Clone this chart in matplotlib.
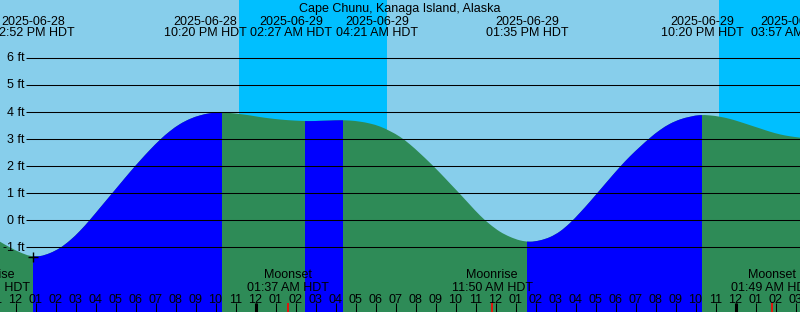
import matplotlib
matplotlib.use("Agg")
import matplotlib.pyplot as plt
import numpy as np
from matplotlib.path import Path
from matplotlib.patches import PathPatch

plt.rcParams["font.family"] = ["Liberation Sans", "DejaVu Sans"]
plt.rcParams["font.size"] = 9

# clock hours counted from 2025-06-28 00:00 HDT; left edge of the chart
t_left = 11.225
t_right = 51.225

# water level (ft), every half hour from the left edge
tide_ft = [
    -0.79, -1.00, -1.18, -1.31, -1.32, -1.21, -1.02, -0.74, -0.39, 0.02,
    0.46, 0.90, 1.34, 1.78, 2.20, 2.60, 2.97, 3.29, 3.55, 3.74,
    3.87, 3.95, 3.98, 3.96, 3.92, 3.87, 3.81, 3.76, 3.72, 3.69,
    3.67, 3.66, 3.67, 3.68, 3.69, 3.68, 3.64, 3.57, 3.46, 3.29,
    3.08, 2.80, 2.47, 2.12, 1.75, 1.36, 0.97, 0.57, 0.18, -0.15,
    -0.42, -0.61, -0.74, -0.79, -0.74, -0.62, -0.41, -0.10, 0.28, 0.69,
    1.12, 1.55, 1.97, 2.36, 2.71, 3.04, 3.33, 3.56, 3.72, 3.82,
    3.88, 3.87, 3.82, 3.74, 3.63, 3.51, 3.39, 3.27, 3.17, 3.10,
    3.05,
]
tide_hours = t_left + 0.5 * np.arange(len(tide_ft))

# high / low tides
event_hours = [12.867, 22.333, 26.45, 28.35, 37.583, 46.333, 51.95]
event_ft = [-1.34, 3.98, 3.66, 3.69, -0.79, 3.89, 3.00]
event_dates = ["2025-06-28", "2025-06-28", "2025-06-29", "2025-06-29",
               "2025-06-29", "2025-06-29", "2025-06-30"]
event_times = ["12:52 PM HDT", "10:20 PM HDT", "02:27 AM HDT", "04:21 AM HDT",
               "01:35 PM HDT", "10:20 PM HDT", "03:57 AM HDT"]

# moon events
moon_hours = [10.667, 25.617, 35.833, 49.817]
moon_names = ["Moonrise", "Moonset", "Moonrise", "Moonset"]
moon_times = ["10:40 AM HDT", "01:37 AM HDT", "11:50 AM HDT", "01:49 AM HDT"]

# night (sunset -> sunrise)
night_start = [23.175, 47.175]
night_end = [30.575, 52.0]

levels = [-1, 0, 1, 2, 3, 4, 5, 6]

DAY = "#87CEEB"
NIGHT = "#00BFFF"
FLOOD = "#0000FF"
EBB = "#2E8B57"

# event labels get pushed apart where they would overlap
label_hours = [12.867, 21.475, 25.775, 30.075, 37.583, 46.333, 50.825]


def ypx(p):
    """pixel row -> ft"""
    return (220.3 - p) / 27.1


def xpx(p):
    """pixel column -> hours"""
    return t_left + p / 20.0


def water_path(t, h, floor):
    # smooth (Catmull-Rom as Bezier) outline through the read points
    pts = np.column_stack([t, h])
    ext = np.vstack([2 * pts[0] - pts[1], pts, 2 * pts[-1] - pts[-2]])
    verts = [pts[0]]
    codes = [Path.MOVETO]
    for i in range(len(pts) - 1):
        p0, p1, p2, p3 = ext[i], ext[i + 1], ext[i + 2], ext[i + 3]
        verts += [p1 + (p2 - p0) / 6, p2 - (p3 - p1) / 6, p2]
        codes += [Path.CURVE4] * 3
    verts += [(t[-1], floor), (t[0], floor), pts[0]]
    codes += [Path.LINETO, Path.LINETO, Path.CLOSEPOLY]
    return Path(verts, codes)


fig = plt.figure(figsize=(8, 3.12), dpi=100)
ax = fig.add_axes([0, 0, 1, 1])
ax.set_xlim(t_left, t_right)
ax.set_ylim(ypx(312), ypx(0))
ax.set_facecolor(DAY)
for sp in ax.spines.values():
    sp.set_visible(False)
ax.set_xticks([])
ax.set_yticks([])

for a, b in zip(night_start, night_end):
    ax.axvspan(a, b, color=NIGHT, lw=0, zorder=1)

water = PathPatch(water_path(tide_hours, np.array(tide_ft), ypx(320)),
                  fc=EBB, lw=0, zorder=2)
ax.add_patch(water)
for i in range(len(event_hours) - 1):
    if event_ft[i + 1] > event_ft[i]:
        span = ax.axvspan(event_hours[i], event_hours[i + 1], color=FLOOD,
                          lw=0, zorder=3)
        span.set_clip_path(water)

ax.hlines(levels, xpx(26), t_right, color="black", lw=0.75, zorder=4)
for lv in levels:
    ax.text(xpx(24.5), lv - 3.7 / 27.1, f"{lv} ft", ha="right", va="baseline",
            zorder=5)

ax.plot(event_hours[0], event_ft[0], marker="+", color="black", ms=7,
        mew=1.0, zorder=5)

ax.text((t_left + t_right) / 2, ypx(12), "Cape Chunu, Kanaga Island, Alaska",
        ha="center", va="baseline", zorder=5)
for x, d, s in zip(label_hours, event_dates, event_times):
    ax.text(x, ypx(24.5), d, ha="center", va="baseline", zorder=5)
    ax.text(x, ypx(36), s, ha="center", va="baseline", zorder=5)

for x, n, s in zip(moon_hours, moon_names, moon_times):
    ax.text(x, ypx(278), n, ha="center", va="baseline", zorder=5)
    ax.text(x, ypx(291), s, ha="center", va="baseline", zorder=5)

hours = np.arange(11, 52)
for h in hours:
    ax.text(h, ypx(303), f"{(h - 1) % 12 + 1:02d}", ha="center",
            va="baseline", zorder=5)
midnight = hours[hours % 24 == 0]
ax.vlines(hours, ypx(312), ypx(303), color="black", lw=0.75, zorder=5)
ax.vlines(midnight, ypx(312), ypx(303), color="black", lw=2.2, zorder=5)
ax.vlines(moon_hours, ypx(312), ypx(303), color="red", lw=1.2, zorder=6)

fig.savefig("out.png", dpi=100)
